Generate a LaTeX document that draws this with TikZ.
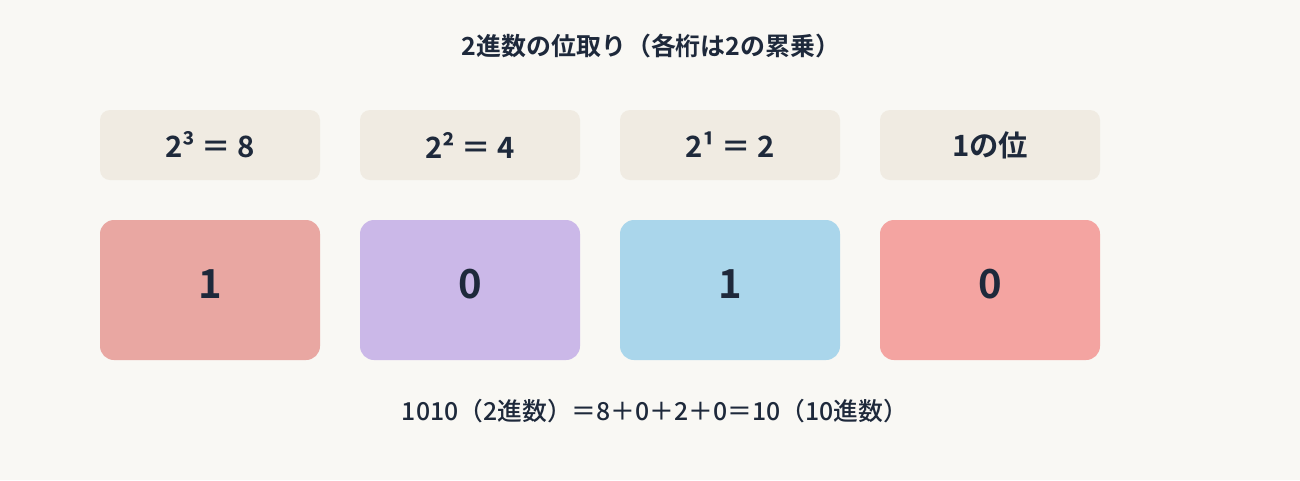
\documentclass[tikz,border=0pt]{standalone}
\usepackage{fontspec}
\setmainfont{Noto Sans CJK JP}
\newfontfamily\jpbold{Noto Sans CJK JP Bold}
\newfontfamily\jpreg{Noto Sans CJK JP Medium}
\definecolor{bgc}{HTML}{F9F8F4}
\definecolor{hdrc}{HTML}{F0EBE2}
\definecolor{txtc}{HTML}{1E293B}
\definecolor{boxa}{HTML}{E9A7A2}
\definecolor{boxb}{HTML}{CBB8E8}
\definecolor{boxc}{HTML}{AAD6EB}
\definecolor{boxd}{HTML}{F4A4A1}
\begin{document}
\begin{tikzpicture}[x=0.75pt,y=-0.75pt,
  hdrbox/.style={fill=hdrc,draw=none,rounded corners=7.5pt,minimum width=165pt,minimum height=52.5pt,inner sep=0pt},
  hdrtext/.style={text=txtc,inner sep=0pt,font=\jpbold\fontsize{22pt}{26pt}\selectfont},
  valbox/.style={draw=none,rounded corners=10.5pt,minimum width=165pt,minimum height=105pt,inner sep=0pt},
  valtext/.style={text=txtc,inner sep=0pt,font=\jpbold\fontsize{30pt}{34pt}\selectfont},
  titletext/.style={text=txtc,inner sep=0pt,font=\jpbold\fontsize{18.7pt}{22pt}\selectfont},
  bottomtext/.style={text=txtc,inner sep=0pt,font=\jpreg\fontsize{18.6pt}{22pt}\selectfont}]
\fill[bgc] (0,0) rectangle (1300,480);
\useasboundingbox (0,0) rectangle (1300,480);
\node[titletext] (title) at (651,46) {2進数の位取り（各桁は2の累乗）};
\node[hdrbox] (h3) at (210,145) {};
\node[hdrbox] (h2) at (470,145) {};
\node[hdrbox] (h1) at (730,145) {};
\node[hdrbox] (h0) at (990,145) {};
\node[hdrtext] (l3) at (210,145) {2³ ＝ 8};
\node[hdrtext] (l2) at (470,145) {2² ＝ 4};
\node[hdrtext] (l1) at (730,145) {2¹ ＝ 2};
\node[hdrtext] (l0) at (990,145) {1の位};
\node[valbox,fill=boxa] (v3) at (210,290) {};
\node[valbox,fill=boxb] (v2) at (470,290) {};
\node[valbox,fill=boxc] (v1) at (730,290) {};
\node[valbox,fill=boxd] (v0) at (990,290) {};
\node[valtext] (t3) at (210,284) {1};
\node[valtext] (t2) at (470,284) {0};
\node[valtext] (t1) at (730,284) {1};
\node[valtext] (t0) at (990,284) {0};
\node[bottomtext] (eq) at (655,411) {1010（2進数）＝8＋0＋2＋0＝10（10進数）};
\end{tikzpicture}
\end{document}
